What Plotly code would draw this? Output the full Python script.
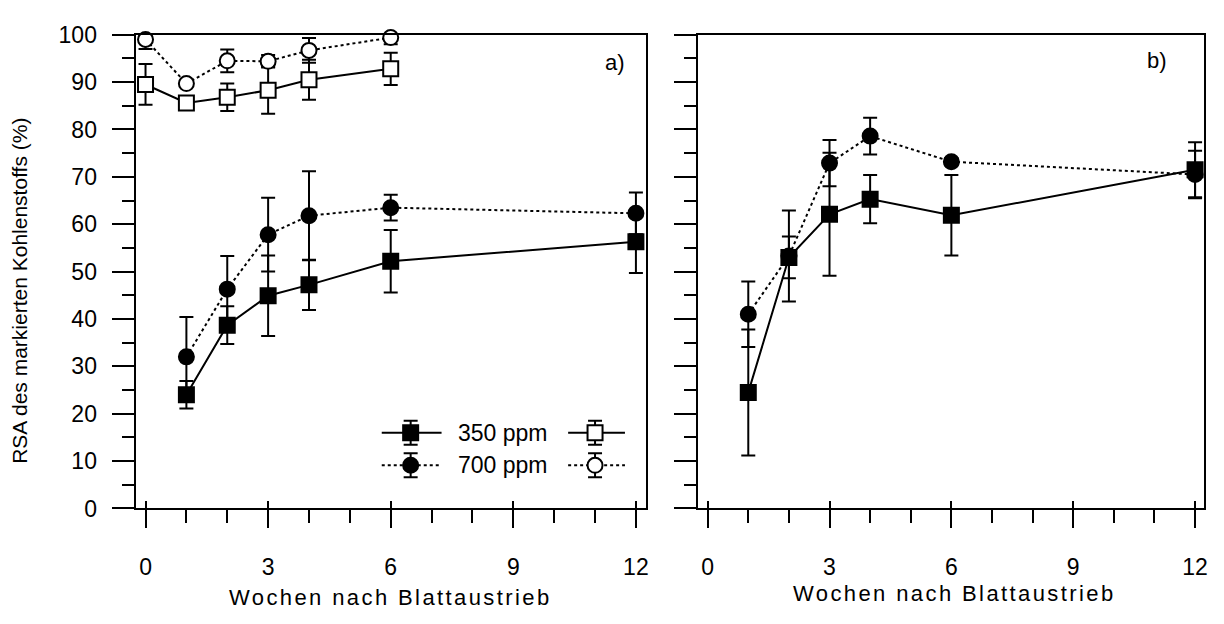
import plotly.graph_objects as go

# ---------------- data ----------------
weeks_a_filled = [1, 2, 3, 4, 6, 12]
a350_filled = [24.0, 38.7, 44.9, 47.2, 52.2, 56.3]
a350_filled_err = [2.9, 4.0, 8.5, 5.3, 6.6, 6.6]
a700_filled = [32.0, 46.3, 57.8, 61.8, 63.5, 62.3]
a700_filled_err = [8.4, 7.0, 7.8, 9.4, 2.7, 4.4]

weeks_a_open = [0, 1, 2, 3, 4, 6]
a350_open = [89.5, 85.6, 86.8, 88.3, 90.5, 92.8]
a350_open_err = [4.3, 0.5, 2.9, 5.0, 4.2, 3.4]
a700_open = [99.0, 89.7, 94.5, 94.4, 96.7, 99.4]
a700_open_err_plus = [0.8, 0.5, 2.4, 1.3, 2.6, 0.5]
a700_open_err_minus = [2.0, 0.5, 2.4, 1.3, 2.6, 1.4]

weeks_b = [1, 2, 3, 4, 6, 12]
b350 = [24.5, 53.0, 62.1, 65.3, 61.9, 71.5]
b350_err = [13.3, 4.4, 13.0, 5.1, 8.5, 5.8]
b700 = [41.0, 53.3, 72.9, 78.6, 73.2, 70.5]
b700_err = [6.9, 9.6, 4.9, 3.9, 0.8, 5.0]

x_major = [0, 3, 6, 9, 12]
x_major_text = ["0", "3", "6", "9", "12"]
x_minor = [1, 2, 4, 5, 7, 8, 10, 11]
y_major = [0, 10, 20, 30, 40, 50, 60, 70, 80, 90, 100]
y_minor = [5, 15, 25, 35, 45, 55, 65, 75, 85, 95]

legend_labels = ["350 ppm", "700 ppm"]
x_title = "Wochen nach Blattaustrieb"
y_title = "RSA des markierten Kohlenstoffs (%)"

# ---------------- geometry ----------------
W, H = 1224, 624
FONT = "Liberation Sans, Arial, sans-serif"
MS = 15


def px(v):
    return v / W


def py(v):
    return 1 - v / H


ydom = [py(517), py(22.7)]
xdom_a = [px(136), px(648)]
xdom_b = [px(700), px(1208)]

fig = go.Figure()


def series(x, y, xa, ya, symbol, fill, dash, err, errminus=None):
    fig.add_trace(go.Scatter(
        x=x, y=y, xaxis=xa, yaxis=ya, mode="lines+markers",
        line=dict(color="black", width=2, dash=dash),
        marker=dict(symbol=symbol, size=MS, color=fill,
                    line=dict(color="black", width=2)),
        error_y=dict(type="data", array=err,
                     arrayminus=errminus if errminus is not None else err,
                     symmetric=errminus is None,
                     visible=True, color="black", thickness=2, width=7),
        cliponaxis=False, showlegend=False, hoverinfo="skip"))


# panel a
series(weeks_a_open, a350_open, "x", "y", "square", "white", "solid", a350_open_err)
series(weeks_a_open, a700_open, "x", "y", "circle", "white", "dot",
       a700_open_err_plus, a700_open_err_minus)
series(weeks_a_filled, a700_filled, "x", "y", "circle", "black", "dot", a700_filled_err)
series(weeks_a_filled, a350_filled, "x", "y", "square", "black", "solid", a350_filled_err)

# panel b
series(weeks_b, b700, "x2", "y2", "circle", "black", "dot", b700_err)
series(weeks_b, b350, "x2", "y2", "square", "black", "solid", b350_err)


# ---------------- legend (unit axes over panel a) ----------------
def lx(p):
    return (p - 136) / 512


def ly(p):
    return (517 - p) / 494.3


rows = [
    dict(y=438, dash="solid", sym="square"),
    dict(y=472, dash="dot", sym="circle"),
]
for r, lab in zip(rows, legend_labels):
    yy = ly(r["y"])
    for (x0, x1, xm, fill) in [(383, 443, 412, "black"), (570, 627, 597, "white")]:
        fig.add_trace(go.Scatter(
            x=[lx(x0), lx(x1)], y=[yy, yy], xaxis="x3", yaxis="y3", mode="lines",
            line=dict(color="black", width=2, dash=r["dash"]),
            showlegend=False, hoverinfo="skip", cliponaxis=False))
        fig.add_trace(go.Scatter(
            x=[lx(xm)], y=[yy], xaxis="x3", yaxis="y3", mode="markers",
            marker=dict(symbol=r["sym"], size=MS, color=fill,
                        line=dict(color="black", width=2)),
            error_y=dict(type="constant", value=12.5 / 494.3, visible=True,
                         color="black", thickness=2, width=7),
            showlegend=False, hoverinfo="skip", cliponaxis=False))
    fig.add_annotation(x=lx(457), y=yy, xref="x3", yref="y3", text=lab,
                       showarrow=False, xanchor="left", yanchor="middle",
                       font=dict(family=FONT, size=23, color="black"))

# ---------------- axes ----------------
common_x = dict(
    showline=True, linecolor="black", linewidth=2, mirror=True,
    ticks="outside", ticklen=18, tickwidth=2, tickcolor="black",
    tickvals=x_major, ticktext=x_major_text,
    tickfont=dict(family=FONT, size=23, color="black"),
    minor=dict(tickvals=x_minor, ticks="outside", ticklen=13, tickwidth=2,
               tickcolor="black", showgrid=False),
    showgrid=False, zeroline=False, ticklabelstandoff=19,
)
common_y = dict(
    range=[0, 100], domain=ydom,
    showline=True, linecolor="black", linewidth=2, mirror=True,
    ticks="outside", ticklen=22, tickwidth=2, tickcolor="black",
    tickvals=y_major,
    tickfont=dict(family=FONT, size=23, color="black"),
    minor=dict(tickvals=y_minor, ticks="outside", ticklen=12, tickwidth=2,
               tickcolor="black", showgrid=False),
    showgrid=False, zeroline=False, ticklabelstandoff=10,
)
inner_ticks = dict(showline=False, showgrid=False, zeroline=False,
                   showticklabels=False, ticks="inside", ticklen=7,
                   tickwidth=2, tickcolor="black", tickvals=x_major)

fig.update_layout(
    width=W, height=H, margin=dict(l=0, r=0, t=0, b=0),
    paper_bgcolor="white", plot_bgcolor="rgba(0,0,0,0)",
    xaxis=dict(domain=xdom_a, range=[-0.244, 12.244], anchor="y", **common_x),
    yaxis=dict(anchor="x", showticklabels=True, **common_y),
    xaxis2=dict(domain=xdom_b, range=[-0.245, 12.221], anchor="y2", **common_x),
    yaxis2=dict(anchor="x2", showticklabels=False, **common_y),
    xaxis3=dict(domain=xdom_a, range=[0, 1], anchor="y3", visible=False),
    yaxis3=dict(domain=ydom, range=[0, 1], anchor="x3", visible=False),
    xaxis4=dict(domain=xdom_a, range=[-0.244, 12.244], anchor="y", overlaying="x",
                **inner_ticks),
    xaxis5=dict(domain=xdom_b, range=[-0.245, 12.221], anchor="y2", overlaying="x2",
                **inner_ticks),
    showlegend=False,
)
# empty traces so the inside-tick overlay axes get drawn
fig.add_trace(go.Scatter(x=[None], y=[None], xaxis="x4", yaxis="y", showlegend=False))
fig.add_trace(go.Scatter(x=[None], y=[None], xaxis="x5", yaxis="y2", showlegend=False))

# ---------------- titles / panel labels ----------------
spaced_title = '<span style="letter-spacing:2.4px">' + x_title + '</span>'
for cx, cy in [(392, 610), (958, 606)]:
    fig.add_annotation(x=px(cx), y=py(cy), xref="paper", yref="paper",
                       text=spaced_title, showarrow=False,
                       xanchor="center", yanchor="middle",
                       font=dict(family=FONT, size=22, color="black"))
fig.add_annotation(x=px(20), y=py(290), xref="paper", yref="paper",
                   text=y_title, showarrow=False, textangle=-90,
                   xanchor="center", yanchor="middle",
                   font=dict(family=FONT, size=21, color="black"))
fig.add_annotation(x=px(617), y=py(52), xref="paper", yref="paper",
                   text="a)", showarrow=False, xanchor="center", yanchor="middle",
                   font=dict(family=FONT, size=22, color="black"))
fig.add_annotation(x=px(1161), y=py(50), xref="paper", yref="paper",
                   text="b)", showarrow=False, xanchor="center", yanchor="middle",
                   font=dict(family=FONT, size=22, color="black"))

fig.write_html("out.html")
